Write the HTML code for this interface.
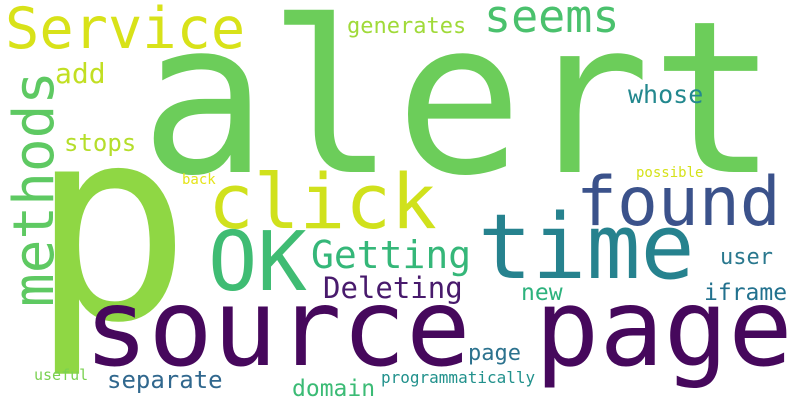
<!DOCTYPE html>
<html><head><meta charset="utf-8"><style>
html,body{margin:0;padding:0;background:#fff;}
svg{display:block;}
text{font-family:"DejaVu Sans Mono","Liberation Mono",monospace;}
</style></head><body>
<svg width="800" height="400" viewBox="0 0 800 400">
<rect width="800" height="400" fill="#fff"/>
<text x="140" y="172" font-size="212" fill="#6ccd5a">alert</text>
<text x="30" y="318" font-size="268" fill="#8fd744">p</text>
<text x="84" y="365" font-size="107" fill="#46085c">source page</text>
<text x="478" y="278" font-size="90" fill="#26828e">time</text>
<text x="576" y="225" font-size="68" fill="#3b528b">found</text>
<text x="208" y="228" font-size="76" fill="#d0e11c">click</text>
<text x="208" y="290" font-size="82" fill="#3fbc73">OK</text>
<text x="5" y="48" font-size="57" fill="#d8e219">Service</text>
<text x="484" y="32" font-size="45" fill="#4ac16d">seems</text>
<text transform="translate(53,307) rotate(-90)" font-size="56" fill="#5ec962">methods</text>
<text x="311" y="268" font-size="38" fill="#35b779">Getting</text>
<text x="323" y="298" font-size="29" fill="#481a6c">Deleting</text>
<text x="347" y="33" font-size="22" fill="#a0da39">generates</text>
<text x="55" y="83" font-size="28" fill="#c2df23">add</text>
<text x="64" y="151" font-size="24" fill="#b5de2b">stops</text>
<text x="628" y="103" font-size="25" fill="#23888e">whose</text>
<text x="720" y="264" font-size="22" fill="#2a788e">user</text>
<text x="704" y="300" font-size="23" fill="#22718e">iframe</text>
<text x="521" y="300" font-size="23" fill="#2db27d">new</text>
<text x="468" y="360" font-size="22" fill="#2c728e">page</text>
<text x="107" y="388" font-size="24" fill="#31688e">separate</text>
<text x="292" y="396" font-size="23" fill="#3bbb75">domain</text>
<text x="381" y="383" font-size="16" fill="#21918c">programmatically</text>
<text x="34" y="380" font-size="15" fill="#7ad151">useful</text>
<text x="636" y="177" font-size="14" fill="#d5e21a">possible</text>
<text x="182" y="184" font-size="14" fill="#e5e419">back</text>
</svg>
</body></html>
